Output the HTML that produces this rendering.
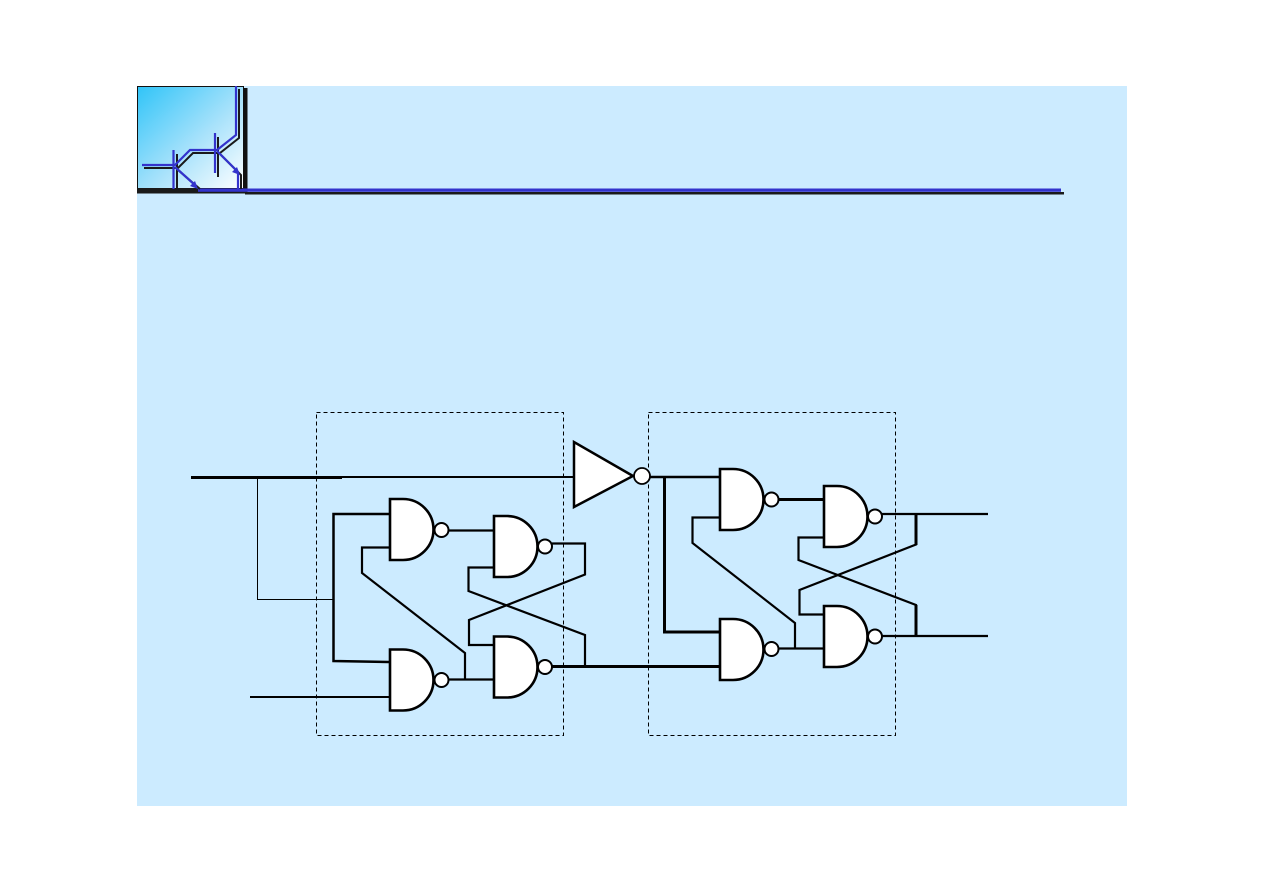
<!DOCTYPE html>
<html>
<head>
<meta charset="utf-8">
<style>
html,body{margin:0;padding:0;background:#ffffff;}
svg{display:block;}
</style>
</head>
<body>
<svg width="1263" height="893" viewBox="0 0 1263 893" xmlns="http://www.w3.org/2000/svg">
<defs>
<linearGradient id="lg" x1="0" y1="0" x2="1" y2="1">
<stop offset="0" stop-color="#30c4f8"/>
<stop offset="0.55" stop-color="#a8e2fb"/>
<stop offset="1" stop-color="#ffffff"/>
</linearGradient>
</defs>
<rect x="0" y="0" width="1263" height="893" fill="#ffffff"/>
<rect x="137" y="86" width="990" height="720" fill="#CCEBFF"/>

<!-- logo -->
<rect x="137.5" y="86.5" width="106" height="103" fill="url(#lg)" stroke="#111" stroke-width="1"/>
<rect x="243" y="88" width="4.5" height="104" fill="#111"/>
<!-- header lines -->
<rect x="137" y="188" width="110" height="5.5" fill="#1a1a1a"/>
<rect x="245" y="192" width="819" height="2.5" fill="#1a1a1a"/>
<rect x="198" y="188.5" width="863" height="3.3" fill="#3333cc"/>
<!-- transistor shadow (black) -->
<g fill="none" stroke="#1a1a1a" stroke-width="2">
<polyline points="239,89 239,138 220,153 193,153 178,168 144,168"/>
<line x1="177" y1="154" x2="177" y2="192"/>
<line x1="218" y1="137" x2="218" y2="177"/>
<line x1="178" y1="170" x2="200" y2="189"/>
<polyline points="220,154 241,175 241,189"/>
</g>
<!-- transistor blue -->
<g fill="none" stroke="#3333cc" stroke-width="2.2">
<polyline points="236,86 236,135 217,150 190,150 175,165 142,165"/>
<line x1="173.5" y1="150" x2="173.5" y2="189"/>
<line x1="215" y1="133" x2="215" y2="173"/>
<line x1="175" y1="167" x2="196" y2="186"/>
<polyline points="217,151 238,172 238,189"/>
</g>
<polygon points="198,189 190,186 195,181" fill="#3333cc"/>
<polygon points="240,175 232,172 237,167" fill="#3333cc"/>

<!-- dashed boxes -->
<rect x="316.5" y="412.5" width="247" height="323" fill="none" stroke="#000" stroke-width="1" stroke-dasharray="4,3"/>
<rect x="648.5" y="412.5" width="247" height="323" fill="none" stroke="#000" stroke-width="1" stroke-dasharray="4,3"/>

<!-- wires -->
<g fill="none" stroke="#000" stroke-linejoin="miter">
<line x1="191" y1="477.5" x2="342" y2="477.5" stroke-width="3"/>
<line x1="340" y1="477" x2="574" y2="477" stroke-width="2"/>
<polyline points="257.5,477 257.5,599.5 334,599.5" stroke-width="1"/>
<polyline points="389,514 333.5,514 333.5,661 389,662" stroke-width="2.5"/>
<line x1="250" y1="697" x2="389" y2="697" stroke-width="2"/>
<polyline points="389,547.5 362,547.5 362,573 465,653 465,679.5" stroke-width="2.2"/>
<line x1="449" y1="530.5" x2="493" y2="530.5" stroke-width="2.2"/>
<line x1="449" y1="679.5" x2="493" y2="679.5" stroke-width="2.2"/>
<polyline points="552,543.5 585,543.5 585,574.5 469,620 469,645 493,645" stroke-width="2.2"/>
<polyline points="493,567.5 468.5,567.5 468.5,591 585,635 585,666" stroke-width="2.2"/>
<line x1="552" y1="666.5" x2="719" y2="666.5" stroke-width="3"/>

<line x1="650" y1="477" x2="719" y2="477" stroke-width="2.5"/>
<polyline points="664.5,477 664.5,632 719,632" stroke-width="3"/>
<polyline points="719,517.5 692.5,517.5 692.5,543 795,623 795,648.5" stroke-width="2.2"/>
<line x1="779" y1="499.5" x2="823" y2="499.5" stroke-width="3"/>
<line x1="779" y1="648.5" x2="823" y2="648.5" stroke-width="2.2"/>
<line x1="882" y1="514" x2="988" y2="514" stroke-width="2.2"/>
<polyline points="916,514 916,544.5 799.5,590 799.5,614.5 823,614.5" stroke-width="2.2"/>
<line x1="916" y1="514" x2="916" y2="545" stroke-width="3"/>
<polyline points="823,537.5 798.5,537.5 798.5,560 916,605 916,636" stroke-width="2.2"/>
<line x1="916" y1="605" x2="916" y2="636" stroke-width="3"/>
<line x1="882" y1="636" x2="988" y2="636" stroke-width="2.2"/>
</g>

<!-- inverter -->
<polygon points="574,442 574,507 633,476" fill="#fff" stroke="#000" stroke-width="2.5" stroke-linejoin="miter"/>
<circle cx="642" cy="476" r="8" fill="#fff" stroke="#000" stroke-width="1.8"/>

<!-- NAND gates -->
<g fill="#fff" stroke="#000" stroke-width="2.6">
<path d="M390,499 H403 A30.5,30.5 0 0 1 403,560 H390 Z"/>
<circle cx="441.5" cy="530" r="7" stroke-width="2"/>
<path d="M494,516 H507 A30.5,30.5 0 0 1 507,577 H494 Z"/>
<circle cx="545" cy="546.5" r="7" stroke-width="2"/>
<path d="M390,649.5 H403 A30.5,30.5 0 0 1 403,710.5 H390 Z"/>
<circle cx="441.5" cy="680" r="7" stroke-width="2"/>
<path d="M494,636.5 H507 A30.5,30.5 0 0 1 507,697.5 H494 Z"/>
<circle cx="545" cy="667" r="7" stroke-width="2"/>
<path d="M720,469 H733 A30.5,30.5 0 0 1 733,530 H720 Z"/>
<circle cx="771.5" cy="499.5" r="7" stroke-width="2"/>
<path d="M720,619 H733 A30.5,30.5 0 0 1 733,680 H720 Z"/>
<circle cx="771.5" cy="649" r="7" stroke-width="2"/>
<path d="M824,486 H837 A30.5,30.5 0 0 1 837,547 H824 Z"/>
<circle cx="875" cy="516.5" r="7" stroke-width="2"/>
<path d="M824,606 H837 A30.5,30.5 0 0 1 837,667 H824 Z"/>
<circle cx="875" cy="636.5" r="7" stroke-width="2"/>
</g>
</svg>
</body>
</html>
